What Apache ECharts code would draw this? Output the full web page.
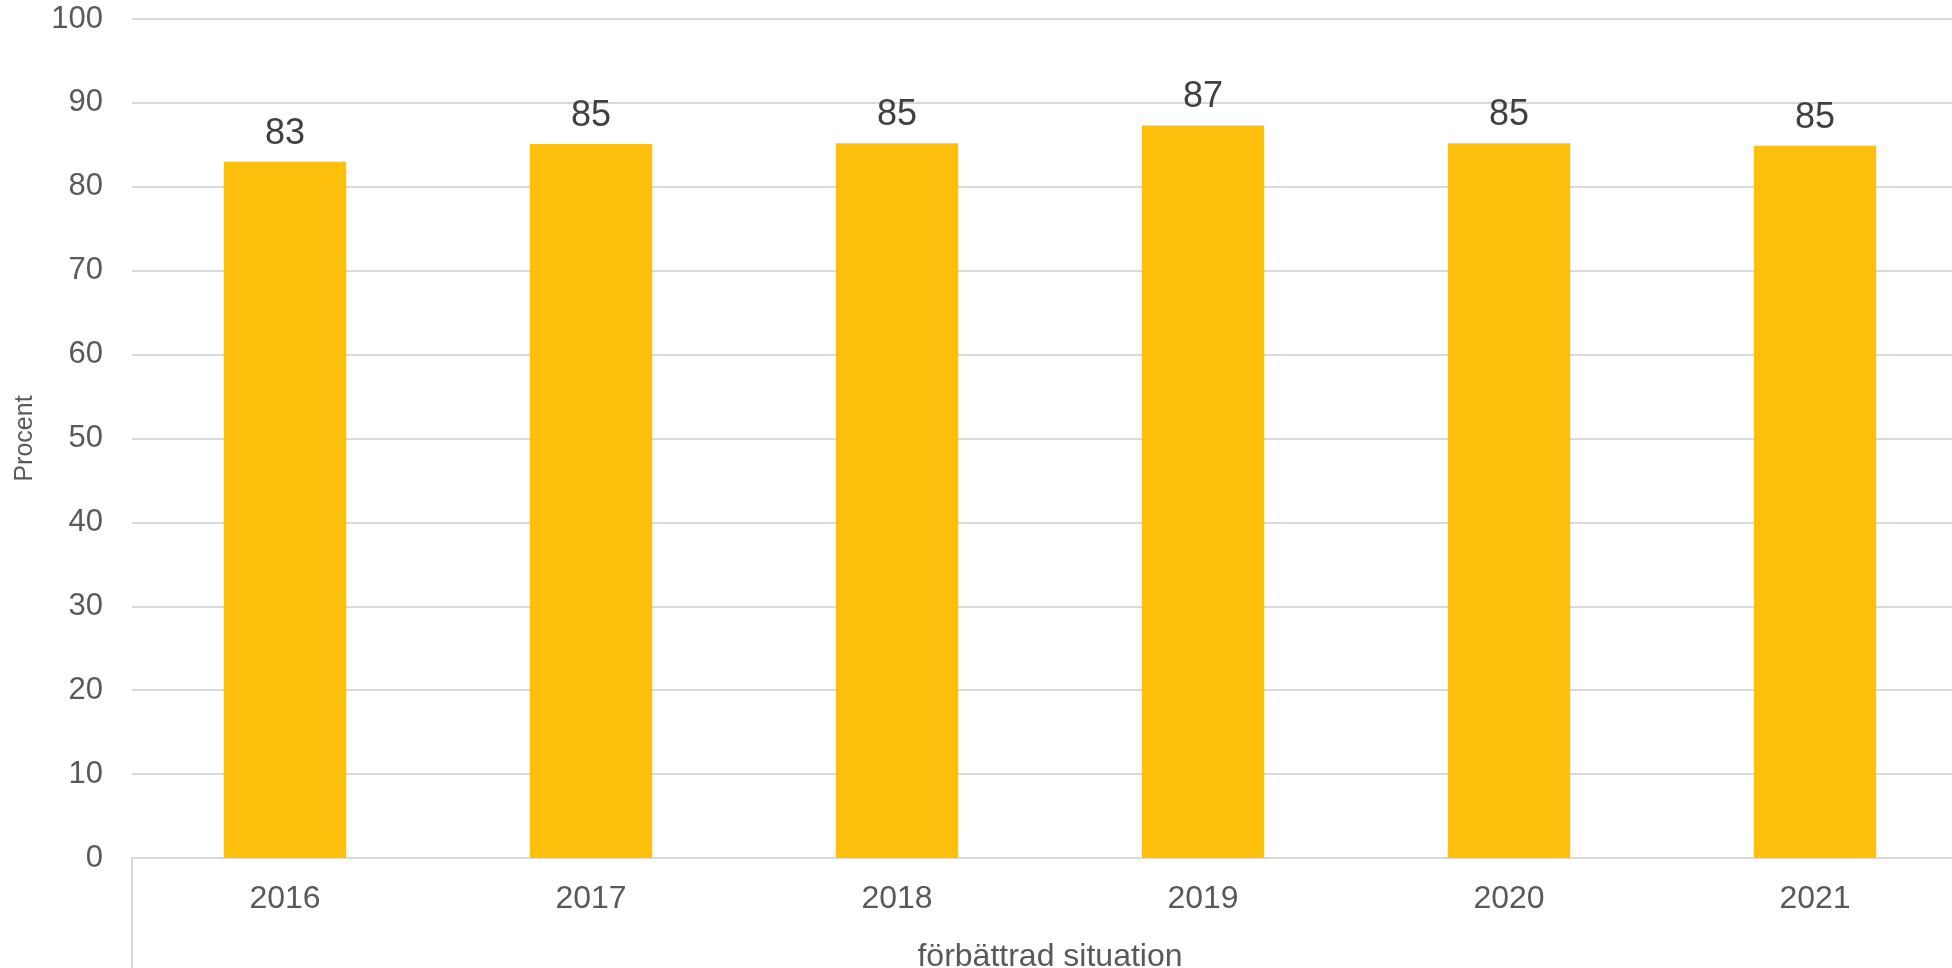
<!DOCTYPE html>
<html>
<head>
<meta charset="utf-8">
<script src="https://cdn.jsdelivr.net/npm/echarts@6/dist/echarts.min.js"></script>
<style>
html,body{margin:0;padding:0;background:#fff;}
#chart{width:1952px;height:968px;}
</style>
</head>
<body>
<div id="chart"></div>
<script>
const categories = ['2016', '2017', '2018', '2019', '2020', '2021'];
const groupLabel = ['förbättrad situation'];
const values = [83.0, 85.1, 85.2, 87.3, 85.2, 84.9];
const yAxisName = 'Procent';

const chart = echarts.init(document.getElementById('chart'));
const FONT = '"Liberation Sans", Arial, sans-serif';
chart.setOption({
  animation: false,
  grid: { left: 132, right: -16, top: 19, bottom: 110, containLabel: false, outerBoundsMode: 'none' },
  xAxis: [
    {
      type: 'category',
      data: categories,
      position: 'bottom',
      axisLine: { show: true, lineStyle: { color: '#D9D9D9', width: 2 } },
      axisTick: { show: false },
      axisLabel: { color: '#595959', fontSize: 32, fontFamily: FONT, margin: 25 },
      splitLine: { show: false }
    },
    {
      type: 'category',
      data: groupLabel,
      position: 'bottom',
      axisLine: { show: false },
      axisTick: { show: true, length: 112, lineStyle: { color: '#D9D9D9', width: 2 } },
      axisLabel: { color: '#595959', fontSize: 32, fontFamily: FONT, margin: 83 },
      splitLine: { show: false }
    }
  ],
  yAxis: {
    type: 'value',
    min: 0, max: 100, interval: 10,
    name: yAxisName,
    nameLocation: 'middle',
    nameGap: 94,
    nameRotate: 90,
    nameTextStyle: { color: '#595959', fontSize: 25, fontFamily: FONT },
    axisLine: { show: false },
    axisTick: { show: false },
    axisLabel: { color: '#595959', fontSize: 31, fontFamily: FONT, margin: 29 },
    splitLine: { show: true, lineStyle: { color: '#D9D9D9', width: 2 } }
  },
  series: [{
    type: 'bar',
    data: values,
    xAxisIndex: 0,
    barWidth: '40%',
    itemStyle: { color: '#FFBF0D' },
    label: {
      show: true,
      position: 'top',
      distance: 10,
      color: '#404040',
      fontSize: 36,
      fontFamily: FONT,
      formatter: p => Math.round(p.value)
    }
  }]
});
</script>
</body>
</html>
